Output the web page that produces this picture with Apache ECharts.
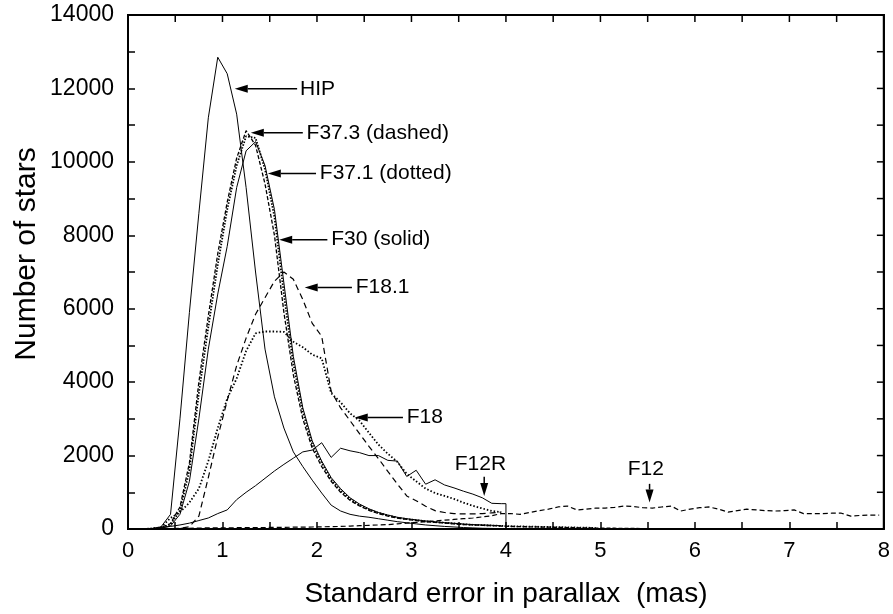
<!DOCTYPE html>
<html><head><meta charset="utf-8">
<script src="https://cdn.jsdelivr.net/npm/echarts@6/dist/echarts.min.js"></script>
<style>html,body{margin:0;padding:0;background:#fff}#c{width:893px;height:614px}</style>
</head><body><div id="c"></div>
<script>
// bin centres (mas)
const errX = [0.05,0.15,0.25,0.35,0.45,0.55,0.65,0.75,0.85,0.95,
  1.05,1.15,1.25,1.35,1.45,1.55,1.65,1.75,1.85,1.95,
  2.05,2.15,2.25,2.35,2.45,2.55,2.65,2.75,2.85,2.95,
  3.05,3.15,3.25,3.35,3.45,3.55,3.65,3.75,3.85,3.95,
  4.05,4.15,4.25,4.35,4.45,4.55,4.65,4.75,4.85,4.95,
  5.05,5.15,5.25,5.35,5.45,5.55,5.65,5.75,5.85,5.95,
  6.05,6.15,6.25,6.35,6.45,6.55,6.65,6.75,6.85,6.95,
  7.05,7.15,7.25,7.35,7.45,7.55,7.65,7.75,7.85,7.95];

const hip = [0,0,10,60,400,3000,5900,8600,11200,12850,
  12400,11300,9300,7000,4900,3600,2750,2100,1700,1330,
  980,650,490,400,350,320,280,240,200,170,
  140,110,90,70,55,40,30,20,15,10];
const f373 = [0,0,10,40,150,600,1800,4000,5800,7500,
  8900,10100,10850,10450,9400,8000,5900,4200,3000,2200,
  1700,1300,1000,780,630,510,420,350,300,260,
  230,200,180,160,140,120,110,100,90,80,
  70,65,60,55,50,45,40,35,30,25,
  22,20,18,15,12];
const f371 = [0,0,10,30,120,500,1600,3700,5500,7200,
  8700,9900,10700,10650,9800,8500,6400,4500,3200,2300,
  1800,1350,1050,820,650,530,440,370,310,270,
  240,210,190,170,150,130,115,105,95,85,
  75,70,65,60,55,50,45,40,35,30];
const f30 = [0,0,5,20,80,400,1300,3000,4900,6400,
  7700,9300,10300,10550,9900,8700,6700,4700,3300,2400,
  1850,1400,1100,850,680,550,450,380,320,280,
  250,220,195,175,155,135,120,110,100,90];
const f181 = [0,0,0,5,10,20,60,350,1400,2500,
  3500,4450,5200,5850,6300,6750,7000,6800,6250,5600,
  5250,3750,3300,2950,2600,2250,1920,1570,1230,900,
  770,620,500,450,420,410,410,420,440,460];
const f18 = [0,0,10,50,300,460,720,1100,1850,2750,
  3550,4100,4850,5330,5380,5380,5370,5100,4950,4750,
  4650,3700,3450,3150,2950,2620,2300,2050,1830,1500,
  1300,1100,980,900,820,720,630,560,490,460];
const f12r = [0,0,10,40,70,110,160,230,300,420,
  520,800,1000,1180,1380,1580,1760,1930,2100,2150,
  2350,1950,2200,2130,2080,2000,2000,1870,1850,1430,
  1600,1220,1340,1200,1120,1030,950,850,700,690];
const f12rEdge = [[4.0, 690], [4.0, 0]];
const f12 = [0,0,0,5,10,15,20,25,30,30,
  30,35,35,40,40,45,45,50,50,55,
  60,65,70,80,90,100,110,120,140,160,
  180,200,220,240,260,280,300,330,360,420,
  420,400,450,500,540,600,625,520,540,570,
  570,590,625,610,580,570,600,625,490,540,
  580,600,540,460,500,540,520,500,490,500,
  520,420,420,420,430,430,350,370,380,380];

// annotations (data coordinates): text, arrow tail, arrow tip, text anchor, alignment
const noteText = ['HIP','F37.3 (dashed)','F37.1 (dotted)','F30 (solid)','F18.1','F18','F12R','F12'];
const noteTail = [[1.79,11990],[1.85,10790],[1.99,9680],[2.11,7880],[2.37,6580],[2.91,3040],[3.77,1420],[5.52,1230]];
const noteTip  = [[1.13,11990],[1.30,10790],[1.48,9680],[1.60,7880],[1.87,6580],[2.40,3040],[3.77,900],[5.52,720]];
const noteAt   = [[1.82,11990],[1.89,10790],[2.03,9680],[2.15,7880],[2.41,6580],[2.95,3040],[3.73,1760],[5.48,1640]];
const noteAlign = ['left','left','left','left','left','left','center','center'];

const xTicks = [0,1,2,3,4,5,6,7,8];
const yTicks = [0,2000,4000,6000,8000,10000,12000,14000];

function pairs(vals){ return vals.map((v,i)=>[errX[i], v]); }

const FONT = 'Liberation Sans, Arial, sans-serif';
function axisCommon(){
  return {
    axisLine:{show:true, onZero:false, lineStyle:{color:'#000', width:2}},
    axisTick:{show:true, inside:true, length:7, lineStyle:{color:'#000', width:1.5}},
    minorTick:{show:false}, splitLine:{show:false}, minorSplitLine:{show:false}
  };
}
const xFmt = v => (xTicks.indexOf(v) >= 0 ? String(v) : '');
const yFmt = v => (yTicks.indexOf(v) >= 0 ? String(v) : '');

function lineSeries(name, data, type, width){
  return {name, type:'line', data, showSymbol:false, symbol:'none', z:3,
    lineStyle:{color:'#000', width:width||1, type:type||'solid'}, silent:true, animation:false};
}

const chart = echarts.init(document.getElementById('c'), null, {renderer:'canvas'});
chart.setOption({
  animation:false,
  backgroundColor:'#fff',
  grid:{left:128, right:8, top:15, bottom:85, show:true, borderColor:'#000', borderWidth:2, backgroundColor:'transparent'},
  xAxis:[
    Object.assign({type:'value', min:xTicks[0], max:xTicks[xTicks.length-1], interval:0.5, position:'bottom',
      name:'Standard error in parallax  (mas)', nameLocation:'middle', nameGap:51,
      nameTextStyle:{color:'#000', fontSize:28, fontFamily:FONT},
      axisLabel:{color:'#000', fontSize:22, fontFamily:FONT, margin:11, formatter:xFmt}}, axisCommon())
  ],
  yAxis:[
    Object.assign({type:'value', min:yTicks[0], max:yTicks[yTicks.length-1], interval:1000, position:'left',
      axisLabel:{color:'#000', fontSize:23, fontFamily:FONT, margin:14, formatter:yFmt}}, axisCommon())
  ],
  series:[
    lineSeries('HIP', pairs(hip), 'solid', 1),
    lineSeries('F37.3', pairs(f373), [4,2], 1.3),
    lineSeries('F37.1', pairs(f371), [1.5,1.5], 1.8),
    lineSeries('F30', pairs(f30), 'solid', 1),
    lineSeries('F18.1', pairs(f181), [6,4], 1.2),
    lineSeries('F18', pairs(f18), [1.5,2], 1.8),
    lineSeries('F12R', pairs(f12r).concat(f12rEdge), 'solid', 1),
    lineSeries('F12', pairs(f12), [5,3], 1.2)
  ]
});

(function addOverlay(){
  const gfx = [];
  const toPx = p => chart.convertToPixel({gridIndex:0}, p);

  // frame on the top and right, with inward ticks matching the bottom/left axes
  const gridRect = chart.getModel().getComponent('grid', 0).coordinateSystem.getRect();
  const frameTop = gridRect.y, frameRight = gridRect.x + gridRect.width;
  gfx.push({type:'polyline', silent:true, z:20,
    shape:{points:[[gridRect.x, frameTop], [frameRight, frameTop], [frameRight, gridRect.y + gridRect.height]]},
    style:{stroke:'#000', lineWidth:2, fill:null}});
  const xStep = (xTicks[1] - xTicks[0]) / 2;
  for (let v = xTicks[0] + xStep; v < xTicks[xTicks.length-1] - 1e-9; v += xStep) {
    const px = toPx([v, yTicks[0]])[0];
    gfx.push({type:'line', silent:true, z:20, shape:{x1:px, y1:frameTop, x2:px, y2:frameTop+7},
      style:{stroke:'#000', lineWidth:1.5}});
  }
  const yStep = (yTicks[1] - yTicks[0]) / 2;
  for (let v = yTicks[0] + yStep; v < yTicks[yTicks.length-1] - 1e-9; v += yStep) {
    const py = toPx([xTicks[0], v])[1];
    gfx.push({type:'line', silent:true, z:20, shape:{x1:frameRight, y1:py, x2:frameRight-7, y2:py},
      style:{stroke:'#000', lineWidth:1.5}});
  }

  // annotation arrows and texts, placed through the chart's own coordinate conversion
  noteText.forEach((t, i) => {
    const a = toPx(noteTail[i]), b = toPx(noteTip[i]);
    const dx = b[0]-a[0], dy = b[1]-a[1], len = Math.hypot(dx, dy) || 1;
    const ux = dx/len, uy = dy/len, hl = 13, hw = 4;
    const base = [b[0]-ux*hl, b[1]-uy*hl];
    gfx.push({type:'line', silent:true, z:10, shape:{x1:a[0], y1:a[1], x2:base[0], y2:base[1]},
      style:{stroke:'#000', lineWidth:1.5}});
    gfx.push({type:'polygon', silent:true, z:10,
      shape:{points:[b, [base[0]-uy*hw, base[1]+ux*hw], [base[0]+uy*hw, base[1]-ux*hw]]},
      style:{fill:'#000'}});
    const p = toPx(noteAt[i]);
    gfx.push({type:'text', silent:true, z:10, x:p[0], y:p[1],
      style:{text:t, fill:'#000', font:'21px ' + FONT, align:noteAlign[i], verticalAlign:'middle'}});
  });
  // y axis title
  gfx.push({type:'text', silent:true, x:27, y:gridRect.y + gridRect.height*0.465, rotation:Math.PI/2,
    style:{text:'Number of stars', fill:'#000', font:'30px ' + FONT, align:'center', verticalAlign:'middle'}});
  chart.setOption({graphic:{elements:gfx}});
})();
</script></body></html>
